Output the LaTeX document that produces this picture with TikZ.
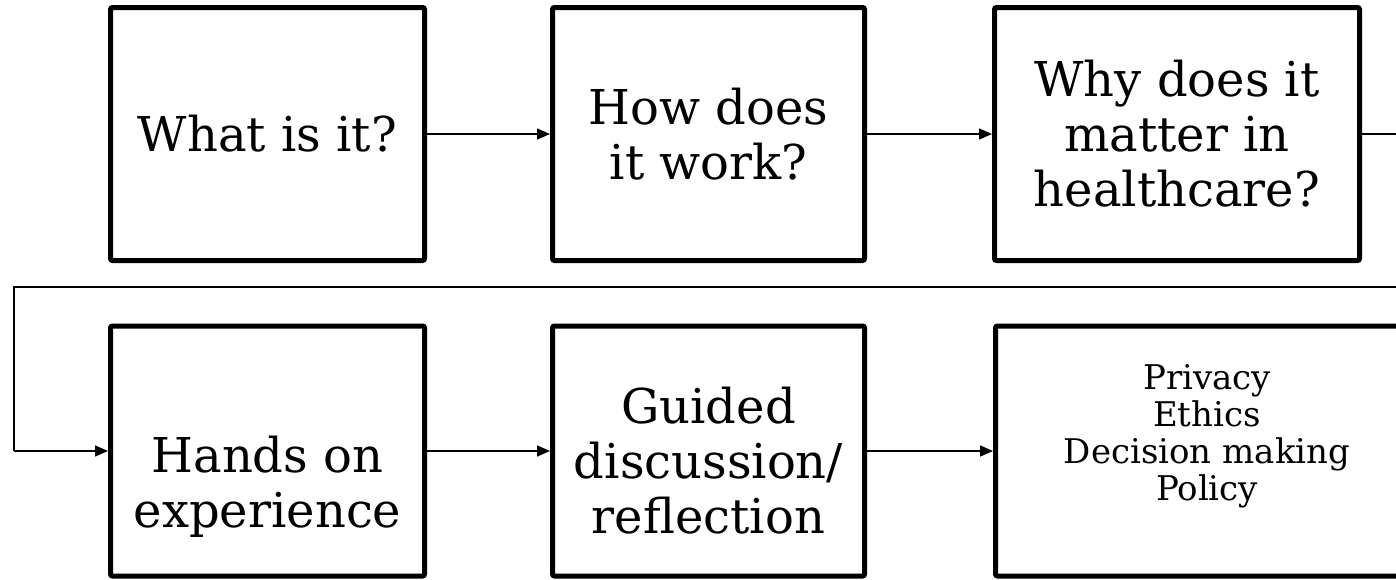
\documentclass[tikz,border=0pt]{standalone}
\usepackage{fontspec}
\setmainfont{DejaVu Serif}
\usetikzlibrary{arrows.meta}
\begin{document}
\begin{tikzpicture}[x=1pt,y=-1pt,
  box/.style={draw, line width=5pt, rounded corners=2pt, inner sep=0pt},
  bigtext/.style={align=center, inner sep=0pt, font=\fontsize{48}{55}\selectfont},
  smalltext/.style={align=center, inner sep=0pt, font=\fontsize{34}{37}\selectfont},
  conn/.style={line width=1.5pt, -{Triangle[length=13pt,width=11pt]}},
  line/.style={line width=1.5pt}]
\useasboundingbox (0,0) rectangle (1396,579);
\clip (0,0) rectangle (1396,579);
\node[box, minimum width=314pt, minimum height=253pt] (b1) at (267.5,134) {};
\node[box, minimum width=312pt, minimum height=253pt] (b2) at (708.5,134) {};
\node[box, minimum width=365pt, minimum height=253pt] (b3) at (1177,134) {};
\node[box, minimum width=314pt, minimum height=250pt] (b4) at (267.5,451) {};
\node[box, minimum width=312pt, minimum height=250pt] (b5) at (708.5,451) {};
\node[box, minimum width=420pt, minimum height=250pt] (b6) at (1205.5,451) {};
\node[bigtext] (t1) at (267.5,134) {What is it?};
\node[bigtext] (t2) at (708.5,134) {How does\\it work?};
\node[bigtext] (t3) at (1177,134) {Why does it\\matter in\\healthcare?};
\node[bigtext] (t4) at (267.5,487) {Hands on\\experience};
\node[bigtext] (t5) at (708.5,461) {Guided\\discussion/\\reflection};
\node[smalltext] (t6) at (1207,436) {Privacy\\Ethics\\Decision making\\Policy};
\coordinate (c1) at (1420,134);
\coordinate (c2) at (1420,287);
\coordinate (c3) at (14,287);
\coordinate (c4) at (14,451);
\draw[conn] (b1) -- (b2);
\draw[conn] (b2) -- (b3);
\draw[conn] (b4) -- (b5);
\draw[conn] (b5) -- (b6);
\draw[line] (b3.east) -- (c1) -- (c2) -- (c3) -- (c4);
\draw[conn] (c4) -- (b4.west);
\end{tikzpicture}
\end{document}
